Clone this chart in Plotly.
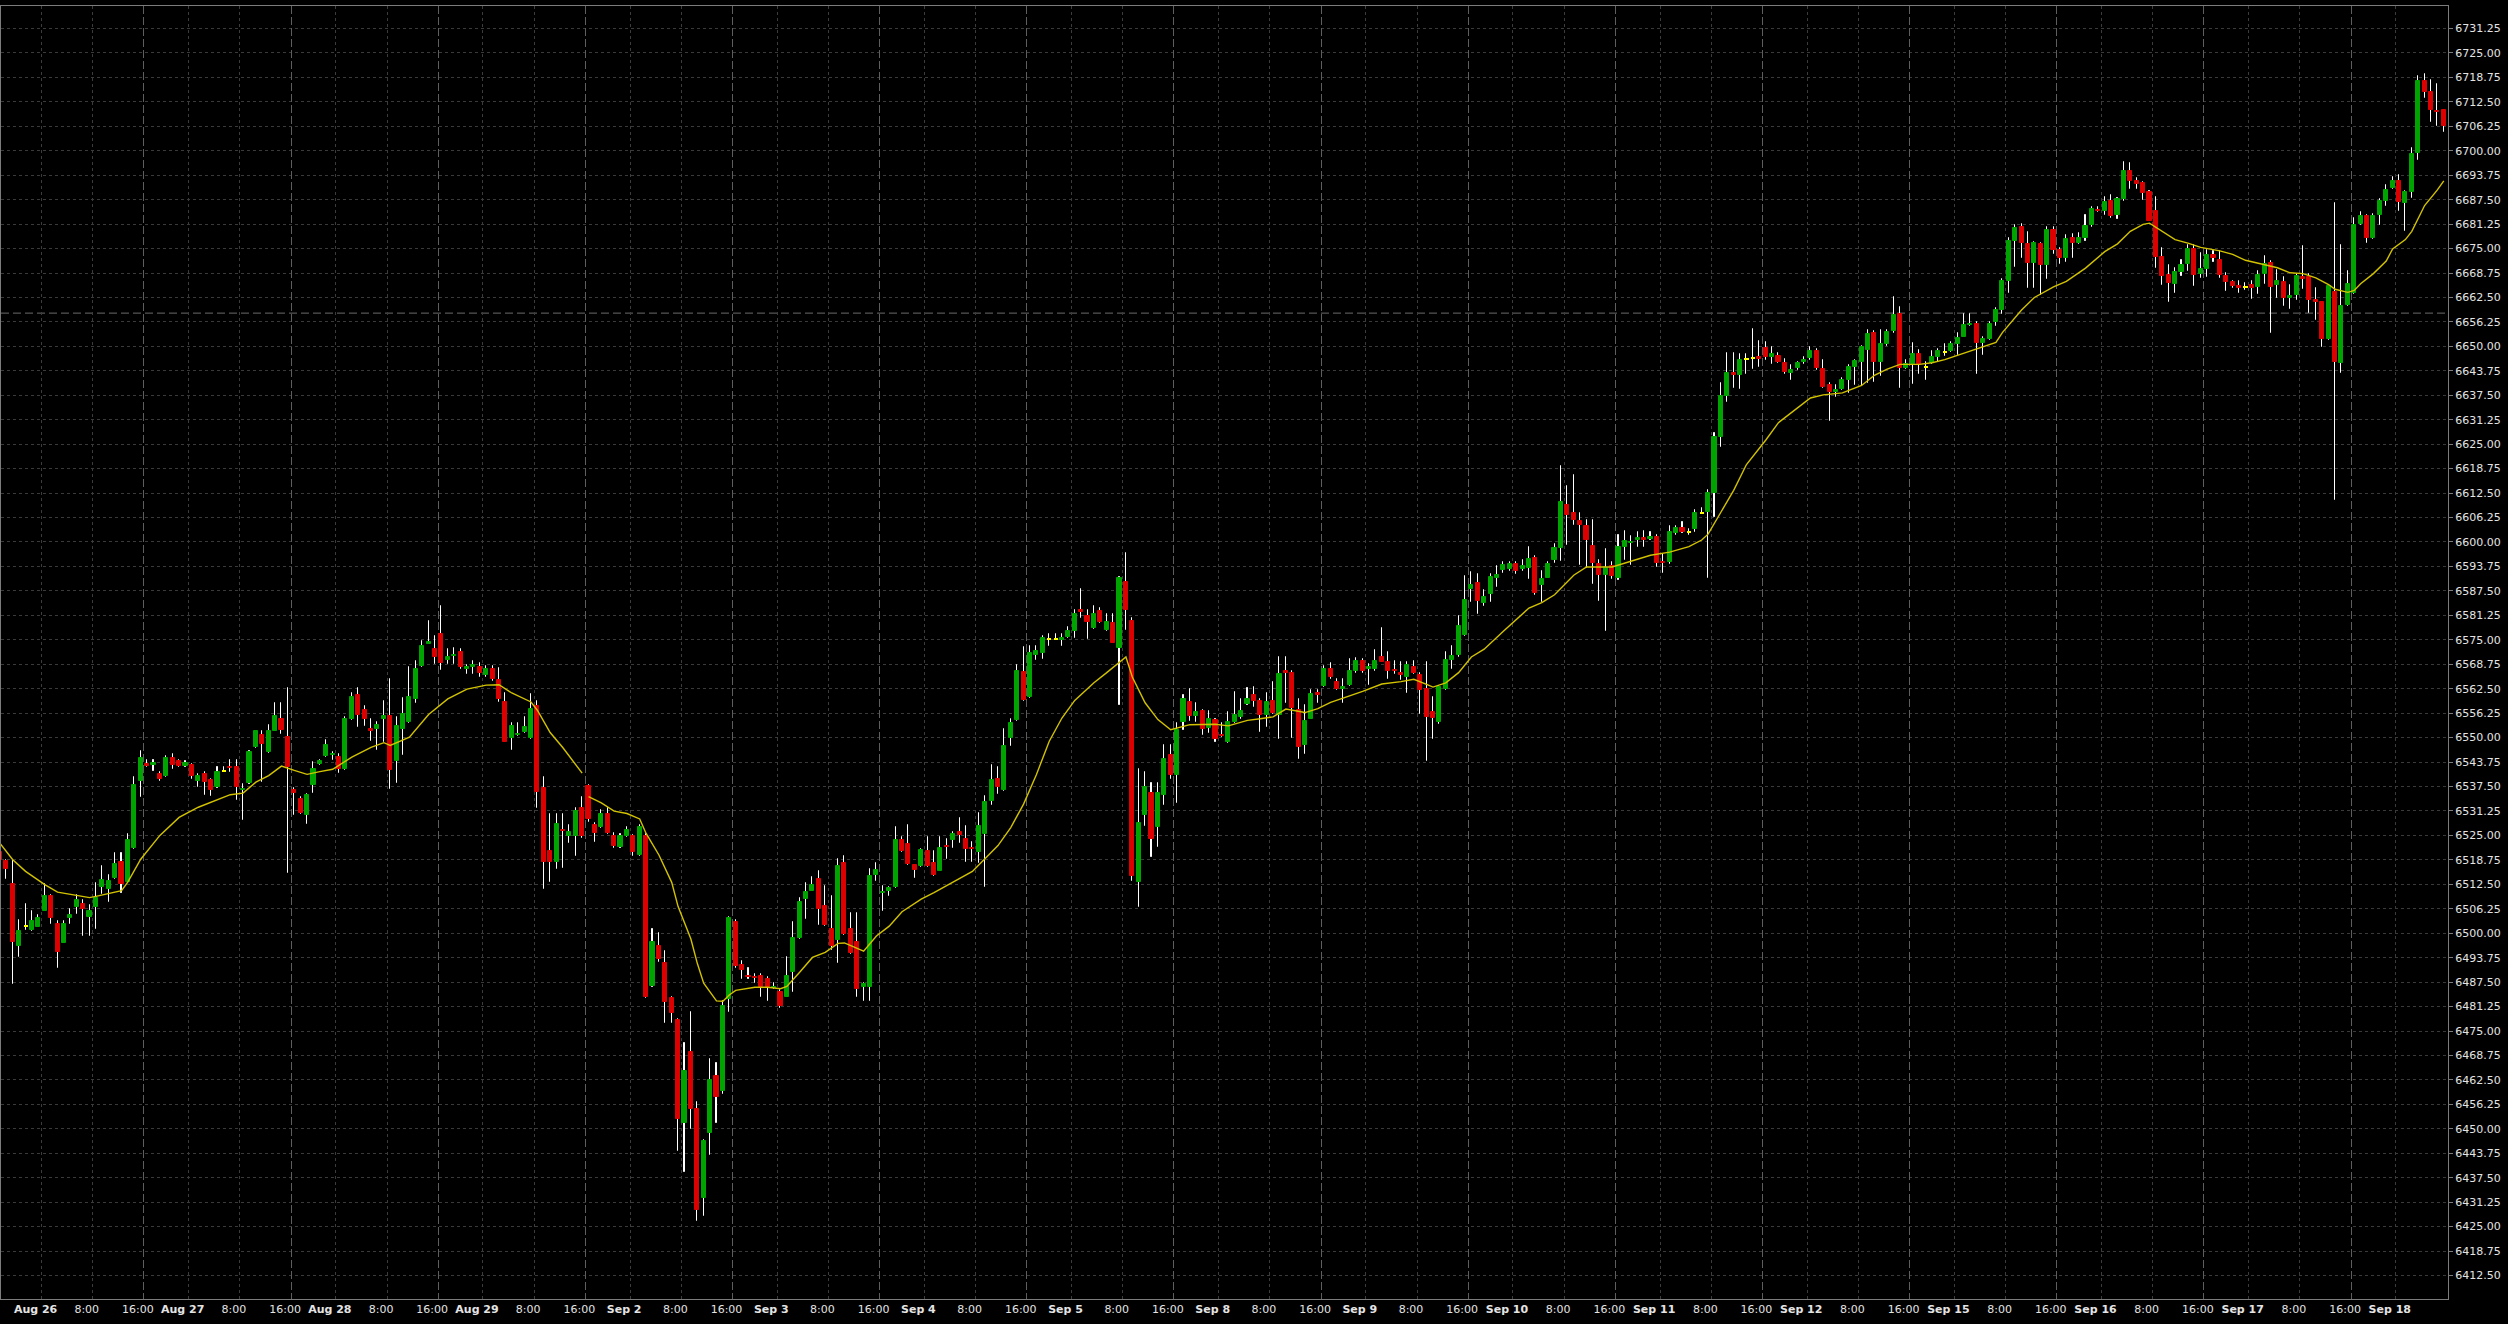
import plotly.graph_objects as go

# ---------------- data (hourly bars) ----------------
opens = [
6520.7,6518.35,6512.7,6496.7,6501.8,6500.7,6501.7,6505.8,6509.4,6502.3,
6497.6,6503.9,6506.7,6507.4,6504.1,6506.7,6511.8,6511.2,6514.1,6518.3,
6513.1,6521.8,6538.8,6543.2,6543.0,6540.6,6540.1,6544.9,6543.9,6542.7,
6543.1,6539.0,6540.6,6539.2,6537.3,6541.35,6542.6,6542.6,6536.5,6538.4,
6547.6,6550.6,6546.3,6551.8,6554.8,6550.1,6536.5,6534.2,6530.3,6537.8,
6543.3,6545.2,6545.5,6545.0,6542.0,6554.85,6560.8,6557.1,6552.1,6552.3,
6554.85,6555.5,6543.9,6552.1,6554.0,6559.9,6568.3,6574.0,6572.6,6576.5,
6569.8,6570.8,6572.0,6567.6,6568.1,6568.1,6566.1,6567.5,6564.8,6559.1,
6549.8,6550.6,6551.5,6549.9,6558.0,6537.2,6520.9,6518.1,6526.3,6524.9,
6524.9,6532.1,6537.5,6527.6,6527.1,6530.4,6524.8,6522.0,6524.8,6524.8,
6520.0,6524.8,6486.6,6496.7,6492.4,6483.5,6477.8,6451.4,6469.7,6455.1,
6432.4,6448.9,6463.5,6459.6,6483.2,6502.9,6491.9,6489.1,6488.8,6489.0,
6488.3,6485.9,6484.9,6483.8,6490.0,6498.9,6508.75,6510.9,6513.9,6506.9,
6501.2,6498.2,6518.0,6501.2,6497.8,6486.3,6486.3,6515.0,6510.2,6510.7,
6511.9,6523.9,6522.8,6517.5,6517.2,6520.9,6517.85,6516.0,6522.4,6523.8,
6525.9,6524.2,6521.8,6520.7,6525.4,6533.9,6539.4,6536.7,6550.0,6554.6,
6566.8,6560.5,6571.2,6571.75,6575.15,6575.15,6574.85,6575.8,6577.2,6582.7,
6581.2,6577.9,6582.3,6577.4,6579.25,6572.8,6589.7,6579.8,6513.05,6530.2,
6535.8,6527.1,6535.3,6545.6,6540.45,6554.0,6559.1,6555.55,6556.9,6552.5,
6554.5,6550.7,6548.95,6554.0,6555.35,6558.7,6560.8,6559.45,6555.85,6559.45,
6555.85,6566.9,6566.5,6557.1,6548.15,6554.8,6561.3,6563.25,6567.65,6564.25,
6562.4,6563.55,6566.9,6569.7,6567.65,6567.45,6570.7,6569.4,6567.35,6566.5,
6565.6,6567.95,6566.1,6562.5,6556.65,6554.1,6562.5,6569.9,6571.05,6576.2,
6588.0,6589.4,6584.3,6586.65,6590.75,6592.9,6593.0,6594.4,6593.0,6593.4,
6595.9,6589.1,6590.9,6595.5,6598.5,6609.4,6607.3,6605.3,6604.1,6598.9,
6594.5,6591.5,6593.9,6590.7,6598.7,6599.7,6600.5,6601.0,6600.7,6601.2,
6595.0,6594.8,6602.2,6603.65,6602.6,6603.2,6607.5,6607.6,6612.5,6626.75,
6637.4,6643.2,6642.6,6646.75,6647.0,6647.2,6649.7,6647.3,6647.5,6645.8,
6643.2,6644.5,6645.9,6647.0,6648.85,6644.3,6640.1,6638.3,6639.0,6641.5,
6644.8,6645.9,6649.1,6653.4,6645.9,6650.7,6654.05,6658.4,6644.55,6645.4,
6648.0,6644.85,6645.8,6647.4,6648.6,6648.85,6650.65,6652.5,6655.4,6655.7,
6650.95,6651.95,6656.2,6659.35,6666.8,6676.95,6680.5,6676.2,6671.4,6676.2,
6670.75,6679.7,6674.6,6672.5,6677.6,6676.4,6677.7,6680.9,6684.95,6684.7,
6687.15,6683.5,6687.65,6694.95,6692.2,6691.65,6689.4,6684.5,6672.75,6668.15,
6665.95,6668.9,6671.05,6674.8,6668.5,6669.8,6673.45,6672.0,6667.9,6666.45,
6665.5,6665.2,6665.6,6665.2,6668.5,6671.2,6665.8,6666.45,6662.4,6663.05,
6667.65,6667.65,6661.75,6661.35,6651.95,6663.8,6645.75,6660.5,6663.6,6681.3,
6683.2,6677.7,6683.65,6687.05,6690.45,6692.35,6686.65,6689.4,6699.4,6717.9,
6714.9,6710.2,6710.3]

highs = [
6521.5,6518.6,6518.6,6503.3,6507.4,6505.6,6504.55,6512.5,6509.7,6503.0,
6503.0,6506.2,6509.7,6508.4,6507.1,6512.8,6517.3,6514.8,6520.6,6520.6,
6525.4,6539.9,6546.7,6544.3,6544.4,6541.2,6545.4,6545.9,6544.2,6543.9,
6543.3,6540.75,6541.2,6539.5,6542.45,6542.45,6544.15,6544.3,6538.2,6546.7,
6551.8,6551.8,6553.1,6558.8,6558.8,6562.6,6537.2,6534.8,6535.5,6543.7,
6544.2,6549.4,6546.4,6545.8,6555.2,6561.4,6562.7,6558.0,6554.85,6554.1,
6559.3,6565.0,6555.2,6560.2,6568.1,6569.5,6574.6,6579.7,6576.0,6583.6,
6572.6,6573.0,6572.6,6568.5,6569.7,6569.0,6568.3,6568.3,6567.9,6561.4,
6553.7,6553.7,6555.2,6561.1,6559.3,6540.0,6530.4,6530.4,6530.4,6527.6,
6531.9,6534.9,6538.0,6528.2,6531.5,6532.1,6525.6,6525.4,6527.1,6525.2,
6527.6,6525.4,6501.2,6500.1,6495.5,6483.8,6478.1,6471.9,6479.8,6456.8,
6447.2,6467.9,6466.8,6482.6,6504.2,6503.5,6492.8,6491.1,6489.6,6489.6,
6488.8,6487.2,6485.5,6494.0,6502.9,6509.0,6512.85,6514.3,6515.8,6512.0,
6509.4,6519.0,6519.75,6505.1,6505.1,6487.2,6516.4,6517.9,6512.0,6511.8,
6527.1,6524.5,6527.6,6517.5,6521.4,6524.5,6520.95,6524.7,6524.0,6525.9,
6529.4,6527.3,6523.2,6530.7,6535.1,6543.0,6542.5,6552.25,6554.8,6568.6,
6573.1,6573.3,6573.5,6575.9,6576.6,6576.4,6576.4,6578.2,6582.5,6588.0,
6582.5,6583.6,6583.05,6581.7,6581.5,6591.05,6597.2,6580.5,6542.0,6541.2,
6538.4,6538.4,6548.15,6548.15,6553.8,6560.8,6562.5,6558.9,6557.1,6556.9,
6554.8,6553.8,6556.6,6561.7,6559.75,6562.8,6563.0,6559.95,6561.5,6564.25,
6570.7,6570.7,6566.9,6559.95,6558.4,6562.2,6562.2,6568.2,6569.0,6565.1,
6564.9,6570.0,6570.4,6570.2,6568.7,6572.3,6577.9,6571.8,6569.7,6569.4,
6569.2,6569.7,6566.6,6569.4,6560.45,6563.25,6571.8,6573.3,6581.0,6591.25,
6592.3,6591.8,6587.7,6591.8,6593.9,6595.0,6595.0,6595.0,6595.5,6598.7,
6596.3,6592.7,6594.9,6599.6,6619.5,6614.4,6617.1,6607.3,6605.5,6605.5,
6595.4,6598.2,6594.8,6601.9,6602.8,6601.5,6602.5,6602.8,6602.5,6601.9,
6597.0,6604.0,6604.1,6605.0,6603.2,6608.2,6608.7,6613.3,6627.9,6640.65,
6648.4,6648.4,6648.0,6648.0,6654.5,6651.5,6651.1,6649.75,6648.4,6646.8,
6645.2,6646.1,6647.4,6649.75,6649.3,6646.6,6640.65,6640.2,6642.0,6645.2,
6646.6,6650.2,6654.3,6653.85,6654.3,6654.3,6662.7,6660.0,6646.6,6650.8,
6649.0,6646.1,6648.85,6649.3,6650.7,6651.1,6653.4,6658.4,6658.4,6656.2,
6652.5,6656.3,6659.8,6667.25,6677.6,6681.0,6681.25,6679.2,6676.7,6676.4,
6680.6,6680.6,6675.1,6678.5,6678.6,6679.0,6683.5,6685.6,6685.6,6688.3,
6688.8,6687.9,6697.0,6696.85,6693.0,6692.0,6689.6,6688.1,6675.1,6670.7,
6670.0,6672.2,6676.0,6676.0,6673.9,6674.7,6674.45,6674.3,6668.75,6666.6,
6666.6,6666.2,6666.6,6669.2,6673.0,6671.9,6669.6,6667.65,6665.8,6668.5,
6675.55,6668.5,6664.9,6661.35,6665.75,6686.6,6675.8,6669.2,6682.8,6684.3,
6683.5,6683.8,6687.75,6691.3,6693.2,6693.7,6689.8,6700.7,6719.0,6719.7,
6718.0,6717.1,6710.5]

lows = [
6517.5,6513.75,6487.1,6493.9,6500.7,6500.5,6501.6,6505.7,6502.3,6491.1,
6497.5,6502.3,6505.0,6499.4,6499.4,6501.0,6510.1,6507.95,6513.9,6510.25,
6512.8,6521.6,6534.8,6542.5,6541.4,6538.9,6539.9,6541.85,6542.4,6542.5,
6539.3,6537.35,6535.2,6535.0,6537.2,6541.2,6541.2,6534.1,6529.0,6538.2,
6547.4,6538.6,6546.1,6551.65,6551.0,6515.4,6530.1,6530.5,6527.8,6535.8,
6543.1,6545.0,6544.4,6540.9,6541.8,6554.6,6552.6,6552.9,6549.2,6546.9,
6549.0,6536.8,6538.5,6545.6,6553.8,6558.9,6568.1,6573.8,6568.75,6567.4,
6568.75,6568.75,6567.5,6566.2,6566.2,6565.6,6565.6,6564.5,6559.1,6548.8,
6546.9,6550.4,6551.3,6549.7,6532.1,6511.3,6513.0,6516.5,6516.6,6523.0,
6519.8,6524.4,6528.5,6523.2,6526.8,6525.4,6521.8,6521.8,6524.5,6519.8,
6519.8,6483.5,6486.3,6492.7,6477.0,6477.0,6444.4,6439.0,6450.0,6426.4,
6427.6,6443.2,6451.4,6459.0,6479.8,6491.1,6488.3,6488.3,6487.2,6483.8,
6482.6,6485.7,6480.9,6483.6,6484.9,6498.6,6503.6,6510.7,6502.0,6501.8,
6495.6,6492.3,6499.5,6494.8,6483.8,6482.8,6482.8,6513.3,6505.8,6509.6,
6511.6,6520.65,6517.5,6514.1,6517.0,6517.0,6514.6,6515.8,6518.9,6521.8,
6523.0,6518.1,6518.1,6517.9,6511.7,6532.8,6535.5,6536.35,6547.9,6554.3,
6559.4,6560.2,6569.9,6570.2,6573.5,6574.85,6573.5,6575.35,6575.55,6580.5,
6575.15,6577.7,6579.25,6577.2,6574.1,6558.4,6577.4,6513.25,6506.6,6527.3,
6519.4,6522.0,6532.8,6539.4,6533.3,6551.95,6554.3,6554.0,6550.7,6551.2,
6548.85,6550.1,6548.65,6553.8,6554.8,6558.4,6557.9,6551.55,6552.7,6556.05,
6549.7,6558.9,6549.9,6544.55,6545.8,6554.8,6558.9,6563.0,6565.1,6562.2,
6558.9,6563.25,6566.6,6566.6,6563.55,6567.15,6569.2,6565.1,6566.3,6564.6,
6561.5,6566.3,6556.05,6544.0,6549.7,6553.6,6562.2,6567.65,6570.7,6575.9,
6584.6,6581.7,6583.6,6584.6,6588.4,6592.0,6592.5,6591.8,6592.5,6590.5,
6586.4,6584.6,6590.7,6594.6,6595.1,6599.2,6604.4,6594.2,6593.3,6589.2,
6584.8,6577.2,6590.5,6590.3,6595.3,6594.2,6598.6,6598.6,6600.5,6593.7,
6592.1,6594.5,6601.9,6602.3,6601.9,6602.5,6607.2,6590.8,6606.4,6624.2,
6635.9,6639.3,6639.2,6642.9,6644.3,6644.7,6646.6,6645.6,6645.7,6642.9,
6641.4,6644.0,6645.6,6646.5,6643.9,6639.3,6631.05,6637.1,6638.8,6638.05,
6640.2,6639.8,6640.7,6640.9,6642.3,6650.2,6653.4,6639.3,6644.3,6640.3,
6643.0,6641.3,6645.6,6646.1,6647.5,6648.6,6647.9,6652.3,6655.2,6642.9,
6647.8,6651.7,6655.2,6658.4,6663.6,6670.4,6672.6,6664.8,6664.8,6663.1,
6667.1,6673.5,6671.0,6671.6,6672.6,6676.2,6676.85,6680.5,6684.3,6683.65,
6682.8,6682.55,6687.1,6690.2,6690.3,6687.5,6682.0,6670.0,6665.75,6661.3,
6663.6,6667.9,6669.2,6665.35,6667.5,6667.65,6671.6,6667.5,6664.25,6664.9,
6663.6,6664.5,6662.2,6663.4,6665.95,6653.4,6662.4,6660.2,6659.6,6661.95,
6664.75,6658.5,6656.8,6649.8,6651.7,6610.8,6643.2,6660.2,6663.4,6681.1,
6676.4,6677.5,6681.1,6686.0,6690.3,6684.5,6679.4,6687.9,6697.7,6713.5,
6707.3,6706.4,6704.8]

closes = [
6518.6,6516.3,6497.7,6500.5,6501.8,6503.0,6504.0,6509.4,6504.0,6495.2,
6502.4,6504.6,6508.4,6506.1,6505.6,6509.0,6513.5,6513.3,6517.6,6512.6,
6523.9,6537.8,6544.9,6542.7,6543.5,6539.3,6544.8,6543.1,6542.7,6543.5,
6540.3,6540.3,6538.6,6536.5,6541.2,6541.35,6542.2,6537.3,6536.9,6546.3,
6551.6,6548.3,6551.8,6555.6,6552.0,6542.4,6535.9,6530.7,6535.2,6542.0,
6543.9,6548.0,6545.9,6542.0,6554.85,6560.5,6555.8,6554.85,6551.8,6553.2,
6555.5,6541.7,6552.9,6555.95,6560.5,6567.55,6573.4,6574.5,6570.6,6569.0,
6570.6,6571.2,6568.1,6568.0,6568.5,6566.4,6567.5,6565.0,6559.9,6549.0,
6552.9,6550.9,6552.6,6557.4,6536.1,6518.1,6518.1,6527.85,6526.0,6525.8,
6531.2,6524.9,6529.3,6525.6,6530.4,6525.6,6522.3,6524.8,6526.3,6520.7,
6527.1,6483.8,6497.7,6493.3,6482.3,6479.6,6452.5,6464.9,6455.1,6429.2,
6446.9,6462.6,6458.1,6481.5,6504.0,6491.7,6490.5,6488.8,6488.5,6486.3,
6486.3,6486.3,6481.3,6489.0,6498.9,6507.9,6510.6,6512.2,6506.2,6502.0,
6496.7,6517.3,6499.7,6495.0,6485.8,6486.9,6514.6,6516.1,6510.5,6511.5,
6523.7,6520.9,6517.7,6516.1,6521.2,6517.2,6515.0,6521.75,6522.0,6525.25,
6525.05,6521.6,6521.4,6527.3,6533.5,6539.2,6537.4,6547.8,6553.8,6567.0,
6559.65,6571.65,6572.2,6575.55,6575.15,6575.15,6575.35,6577.2,6581.5,6582.2,
6579.45,6581.5,6579.45,6579.45,6574.3,6590.75,6582.5,6514.6,6528.1,6537.4,
6524.0,6535.8,6544.5,6540.45,6551.95,6559.75,6555.55,6556.55,6552.25,6554.8,
6549.7,6550.3,6553.95,6555.85,6556.9,6559.75,6559.45,6555.85,6559.15,6556.35,
6566.3,6566.5,6557.6,6547.65,6554.3,6561.2,6560.9,6567.65,6565.6,6562.5,
6563.0,6567.15,6569.7,6567.15,6568.15,6569.7,6569.4,6567.15,6567.15,6566.1,
6568.6,6566.6,6562.2,6555.35,6555.1,6562.85,6569.9,6570.9,6578.45,6585.1,
6588.9,6584.9,6585.9,6591.15,6591.55,6594.1,6594.3,6592.7,6593.9,6595.7,
6587.0,6590.6,6594.5,6598.4,6610.1,6607.0,6605.5,6604.3,6600.6,6594.7,
6591.5,6593.45,6591.2,6598.65,6600.3,6600.0,6601.0,6600.5,6601.2,6594.6,
6594.7,6602.5,6603.65,6602.45,6602.6,6607.3,6607.5,6612.5,6626.75,6637.35,
6643.2,6642.7,6646.6,6646.75,6647.0,6646.8,6647.2,6648.0,6646.1,6643.55,
6644.0,6645.8,6646.45,6648.85,6644.5,6639.7,6638.35,6638.9,6641.45,6644.75,
6646.3,6649.75,6653.2,6646.1,6650.7,6653.6,6658.05,6644.55,6645.4,6648.0,
6645.5,6644.85,6647.2,6648.85,6648.6,6650.6,6652.2,6655.5,6655.8,6650.95,
6651.95,6655.7,6659.35,6666.6,6676.95,6680.25,6676.4,6671.4,6676.4,6670.75,
6679.7,6674.65,6672.6,6677.4,6676.45,6677.7,6680.7,6685.1,6684.5,6686.8,
6683.2,6687.65,6694.7,6692.2,6691.5,6689.2,6682.1,6672.8,6667.9,6666.2,
6668.9,6670.9,6674.8,6668.3,6669.85,6673.45,6672.6,6668.15,6666.45,6665.4,
6664.9,6665.2,6664.9,6668.3,6671.1,6665.25,6666.6,6662.4,6662.8,6667.9,
6667.1,6661.95,6661.35,6651.95,6665.35,6646.0,6660.25,6666.0,6680.9,6683.2,
6677.7,6683.2,6687.05,6690.05,6692.35,6686.9,6689.4,6699.25,6717.9,6714.9,
6710.3,6709.8,6706.25]

ma_index = [0,2,4,6,7,9,11,14,15,17,19,20,22,25,28,31,34,36,38,40,42,44,46,48,50,52,55,58,60,61,
            64,67,70,73,76,78,80,83,84,86,88,90,91,
            92,94,96,98,100,101,103,105,106,108,109,110,112,113,114,115,118,120,122,123,125,127,129,
            131,132,134,135,137,139,141,144,146,148,152,156,158,160,162,164,166,168,171,173,176,177,
            179,181,183,186,190,192,195,197,199,201,203,204,206,208,213,216,219,221,223,224,226,228,
            230,232,235,239,241,243,246,248,252,255,258,261,264,266,267,269,271,273,276,278,280,283,
            285,288,291,293,295,297,300,302,304,307,309,312,313,316,318,321,323,326,329,331,333,335,
            336,338,340,342,344,347,349,351,354,356,358,360,362,364,365,367,368,369,371,373,374,376,
            377,379,381,382]
ma_values = [6523.0,6518.8,6515.8,6513.6,6512.4,6510.5,6509.9,6509.1,6509.4,6510.1,6510.9,6513.1,6518.9,
             6525.0,6529.6,6532.2,6534.2,6535.4,6535.8,6538.6,6540.3,6542.7,6541.6,6540.6,6541.3,6541.9,
             6545.0,6547.5,6548.7,6548.0,6550.1,6555.9,6559.9,6562.4,6563.4,6563.5,6561.4,6559.1,6557.0,
             6551.3,6547.4,6543.0,6540.9,
             6534.9,6533.3,6531.2,6530.6,6529.2,6525.5,6520.0,6513.0,6506.8,6498.5,6492.3,6487.2,6482.7,
             6482.6,6484.2,6485.4,6486.2,6486.2,6485.8,6486.4,6490.0,6493.8,6495.1,6497.4,6497.5,6496.2,
             6495.4,6499.3,6501.8,6505.5,6508.7,6510.4,6512.2,6515.8,6522.4,6527.0,6533.0,6540.5,6549.0,
             6555.0,6559.5,6564.0,6566.6,6570.6,6565.5,6558.9,6554.6,6552.0,6553.3,6553.4,6553.0,6554.4,
             6554.8,6555.3,6557.3,6556.7,6556.4,6557.4,6559.0,6561.8,6563.7,6564.3,6564.9,6563.6,6562.9,
             6564.0,6566.6,6570.6,6572.6,6577.2,6583.1,6584.5,6586.5,6591.5,6593.6,6593.6,6595.2,6596.6,
             6597.4,6598.8,6600.5,6602.0,6607.6,6613.2,6619.8,6626.0,6630.5,6633.0,6636.8,6637.6,6638.1,
             6640.0,6642.6,6644.2,6645.4,6645.4,6645.8,6646.6,6648.2,6649.3,6651.0,6653.5,6659.3,6662.5,
             6665.2,6666.6,6670.0,6674.2,6676.2,6679.4,6681.2,6681.5,6679.5,6677.3,6676.4,6675.3,6674.4,
             6673.5,6672.0,6670.8,6670.1,6668.8,6668.6,6667.5,6665.8,6664.6,6663.8,6664.3,6666.0,6668.6,
             6671.8,6674.9,6677.3,6679.4,6686.0,6690.0,6692.3]
ma_gap_after = 91          # the average restarts after the Labor Day break

day_labels = ["Aug 26", "Aug 27", "Aug 28", "Aug 29", "Sep 2", "Sep 3", "Sep 4", "Sep 5",
              "Sep 8", "Sep 9", "Sep 10", "Sep 11", "Sep 12", "Sep 15", "Sep 16", "Sep 17", "Sep 18"]
session_marks = [(6.5, None), (14.5, "8:00"), (22.5, "16:00")]   # offsets inside a 23-bar session
bars_per_session = 23
ref_level = 6658.5

# ---------------- derived structures ----------------
n = len(opens)
idx = list(range(n))

wick_base = lows
wick_size = [h - l for h, l in zip(highs, lows)]

UP, DOWN, FLAT = "#00a400", "#dc0000", "#ffff00"
body_base = [min(o, c) for o, c in zip(opens, closes)]
body_size = [abs(c - o) for o, c in zip(opens, closes)]
body_col = [UP if c > o else (DOWN if c < o else FLAT) for o, c in zip(opens, closes)]
body_lw = [1 if c != o else 2 for o, c in zip(opens, closes)]

ma_x, ma_y = [], []
for xi, yi in zip(ma_index, ma_values):
    ma_x.append(xi)
    ma_y.append(yi)
    if xi == ma_gap_after:
        ma_x.append(None)
        ma_y.append(None)

tick_vals, tick_text, fine_vals, heavy_vals = [], [], [], []
for j, d in enumerate(day_labels):
    for off, txt in session_marks:
        v = j * bars_per_session + off
        if v > n - 1:
            continue
        tick_vals.append(v)
        tick_text.append("<b>%s</b>" % d if txt is None else txt)
        (heavy_vals if txt == "16:00" else fine_vals).append(v)

x_range = [0.16, n - 0.34]
y_range = [6406.5, 6737.0]
FONT = dict(family="DejaVu Sans", size=11, color="#e4e4e4")

fig = go.Figure()
# wicks: zero-width bars with a 1px white outline -> crisp single-pixel lines
fig.add_trace(go.Bar(x=idx, y=wick_size, base=wick_base, width=0.01,
                     marker=dict(color="#ffffff", line=dict(color="#ffffff", width=1)),
                     hoverinfo="skip", xaxis="x", yaxis="y"))
# bodies on an overlaid axis so that they are painted above the wicks
fig.add_trace(go.Bar(x=idx, y=body_size, base=body_base, width=0.64,
                     marker=dict(color=body_col, line=dict(color=body_col, width=body_lw)),
                     hoverinfo="skip", xaxis="x2", yaxis="y"))
fig.add_trace(go.Scatter(x=ma_x, y=ma_y, mode="lines", line=dict(color="#d2c200", width=1.4),
                         connectgaps=False, hoverinfo="skip", xaxis="x3", yaxis="y"))

fig.add_shape(type="line", xref="paper", x0=0, x1=1, yref="y", y0=ref_level, y1=ref_level,
              line=dict(color="#6a6a6a", width=1, dash="8px,4px"), layer="below")

fig.update_layout(
    width=2508, height=1324,
    margin=dict(l=1, r=60, t=6, b=25, pad=0),
    paper_bgcolor="#000000", plot_bgcolor="#000000",
    showlegend=False, hovermode=False, barmode="overlay", bargap=0, bargroupgap=0,
    font=FONT,
    xaxis=dict(range=x_range, tickvals=tick_vals, ticktext=tick_text, showgrid=False, zeroline=False,
               ticks="", tickfont=FONT, ticklabelshift=-6, showline=True, mirror=True,
               linecolor="#7c7c7c", linewidth=1, fixedrange=True),
    xaxis2=dict(range=x_range, overlaying="x", anchor="y", tickvals=fine_vals, showticklabels=False,
                ticks="", showgrid=True, gridcolor="#3c3c3c", griddash="3px,3px", gridwidth=1,
                zeroline=False, showline=False, fixedrange=True),
    xaxis3=dict(range=x_range, overlaying="x", anchor="y", tickvals=heavy_vals, showticklabels=False,
                ticks="", showgrid=True, gridcolor="#5e5e5e", griddash="8px,3px", gridwidth=1,
                zeroline=False, showline=False, fixedrange=True),
    yaxis=dict(range=y_range, side="right", tick0=6412.5, dtick=6.25, tickformat=".2f",
               showgrid=True, gridcolor="#3a3a3a", griddash="3px,3px", zeroline=False,
               ticks="outside", ticklen=4, tickcolor="#7c7c7c", tickfont=FONT,
               showline=True, mirror=True, linecolor="#7c7c7c", linewidth=1, fixedrange=True),
)

fig.write_html("out.html", config={"displayModeBar": False},
               post_script="document.body.style.margin='0';document.body.style.overflow='hidden';")
